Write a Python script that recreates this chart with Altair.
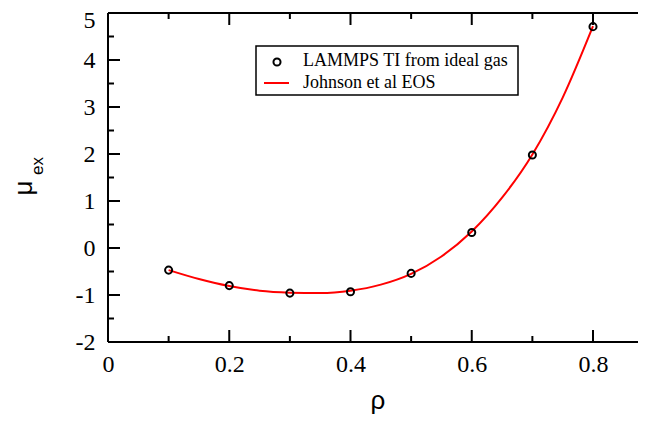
import altair as alt
import pandas as pd

# Data
rho_pts = [0.1, 0.2, 0.3, 0.4, 0.5, 0.6, 0.7, 0.8]
mu_pts = [-0.47, -0.80, -0.96, -0.93, -0.54, 0.33, 1.98, 4.71]

rho_curve = [0.10, 0.15, 0.20, 0.25, 0.30, 0.35, 0.40, 0.45, 0.50, 0.55, 0.60, 0.65, 0.70, 0.75, 0.80]
mu_curve = [-0.47, -0.66, -0.81, -0.91, -0.95, -0.96, -0.91, -0.78, -0.55, -0.18, 0.35, 1.07, 1.99, 3.20, 4.72]

x_major = [0, 0.2, 0.4, 0.6, 0.8]
x_minor = [0.1, 0.3, 0.5, 0.7]
y_major = [-2, -1, 0, 1, 2, 3, 4, 5]
y_minor = [-1.5, -0.5, 0.5, 1.5, 2.5, 3.5, 4.5]

legend_labels = ["LAMMPS TI from ideal gas", "Johnson et al EOS"]
x_title = "ρ"
y_title_main = "μ"
y_title_sub = "ex"

W = 530
H = 329
MAJ = 12
MIN = 6
PX_PER_UNIT = 606.25

xscale = alt.Scale(domain=[0, W / PX_PER_UNIT], nice=False, zero=False)
yscale = alt.Scale(domain=[-2, 5], nice=False, zero=False)

x_axis = alt.Axis(values=x_major, labelExpr="toString(datum.value)", title=None, domain=False,
                  ticks=False, tickSize=0, grid=False, labelFont="Liberation Serif", labelFontSize=24,
                  labelColor="black", labelPadding=10, labelFlush=False)
y_axis = alt.Axis(values=y_major, labelExpr="toString(datum.value)", title=None, domain=False,
                  ticks=False, tickSize=0, grid=False, labelFont="Liberation Serif", labelFontSize=24,
                  labelColor="black", labelPadding=13, labelFlush=False,
                  labelOffset={"condition": {"test": "datum.value == 5", "value": 7}, "value": 0})

one = pd.DataFrame({"a": [0]})
curve_df = pd.DataFrame({"rho": rho_curve, "mu": mu_curve})
pts_df = pd.DataFrame({"rho": rho_pts, "mu": mu_pts})

curve = alt.Chart(curve_df).mark_line(color="#ff0000", strokeWidth=2, interpolate="monotone").encode(
    x=alt.X("rho:Q", scale=xscale, axis=x_axis),
    y=alt.Y("mu:Q", scale=yscale, axis=y_axis),
)
points = alt.Chart(pts_df).mark_point(shape="circle", filled=False, color="black", strokeWidth=2,
                                      size=50, opacity=1).encode(
    x=alt.X("rho:Q", scale=xscale),
    y=alt.Y("mu:Q", scale=yscale),
)

frame_style = dict(color="black", strokeWidth=2)
left = alt.Chart(one).mark_rule(**frame_style).encode(x=alt.value(0), y=alt.value(0), y2=alt.value(H))
top = alt.Chart(one).mark_rule(**frame_style).encode(x=alt.value(0), x2=alt.value(W), y=alt.value(0))
bottom = alt.Chart(one).mark_rule(**frame_style).encode(x=alt.value(0), x2=alt.value(W), y=alt.value(H))


def xticks(vals, length):
    df = pd.DataFrame({"t": vals})
    b = alt.Chart(df).mark_rule(**frame_style).encode(
        x=alt.X("t:Q", scale=xscale), y=alt.value(H), y2=alt.value(H - length))
    t = alt.Chart(df).mark_rule(**frame_style).encode(
        x=alt.X("t:Q", scale=xscale), y=alt.value(0), y2=alt.value(length))
    return [b, t]


def yticks(vals, length):
    df = pd.DataFrame({"t": vals})
    l = alt.Chart(df).mark_rule(**frame_style).encode(
        y=alt.Y("t:Q", scale=yscale), x=alt.value(0), x2=alt.value(length))
    return [l]


tick_layers = xticks(x_major, MAJ) + xticks(x_minor, MIN) + yticks(y_major, MAJ) + yticks(y_minor, MIN)

# Axis titles
rho_title = alt.Chart(one).mark_text(text=x_title, font="Liberation Sans", fontSize=26, color="black",
                                     align="center", baseline="middle").encode(
    x=alt.value(270), y=alt.value(388))
mu_title = alt.Chart(one).mark_text(text=y_title_main, font="Liberation Sans", fontSize=26, color="black",
                                    align="center", baseline="middle", angle=270).encode(
    x=alt.value(-84), y=alt.value(175))
ex_title = alt.Chart(one).mark_text(text=y_title_sub, font="Liberation Sans", fontSize=17, color="black",
                                    align="center", baseline="middle", angle=270).encode(
    x=alt.value(-70), y=alt.value(153))

# Legend
leg_box = alt.Chart(one).mark_rect(fill="white", stroke="black", strokeWidth=1.5).encode(
    x=alt.value(148), x2=alt.value(410), y=alt.value(33), y2=alt.value(82))
leg_pt = alt.Chart(one).mark_point(shape="circle", filled=False, color="black", strokeWidth=2,
                                   size=50, opacity=1).encode(x=alt.value(169), y=alt.value(49))
leg_line = alt.Chart(one).mark_rule(color="#ff0000", strokeWidth=2).encode(
    x=alt.value(156), x2=alt.value(181), y=alt.value(70))
leg_t1 = alt.Chart(one).mark_text(text=legend_labels[0], font="Liberation Serif", fontSize=18,
                                  color="black", align="left", baseline="alphabetic").encode(
    x=alt.value(195), y=alt.value(53))
leg_t2 = alt.Chart(one).mark_text(text=legend_labels[1], font="Liberation Serif", fontSize=18,
                                  color="black", align="left", baseline="alphabetic").encode(
    x=alt.value(195), y=alt.value(75))

chart = alt.layer(
    curve, points, left, top, bottom, *tick_layers,
    rho_title, mu_title, ex_title,
    leg_box, leg_pt, leg_line, leg_t1, leg_t2,
).properties(
    width=W, height=H,
    autosize=alt.AutoSizeParams(type="none"),
    padding={"left": 100, "top": 5, "right": 0, "bottom": 72},
).configure_view(stroke=None).configure(background="white")

chart.save("out.html", embed_options={"renderer": "svg", "actions": False})
